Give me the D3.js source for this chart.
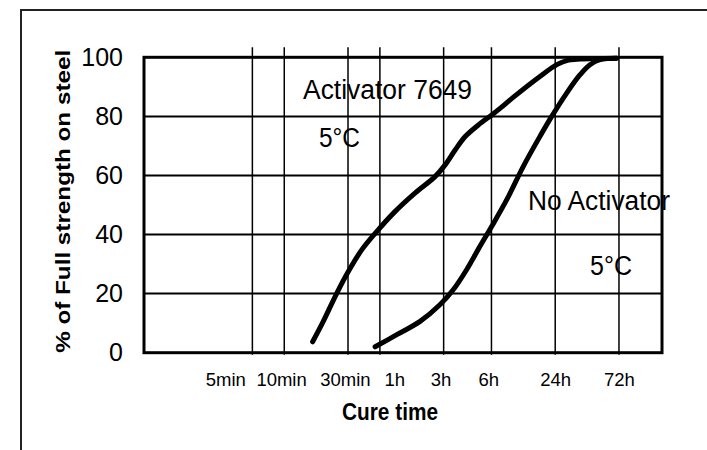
<!DOCTYPE html>
<html>
  <head>
    <meta charset='utf-8'>
    <title></title>
    <script src='https://d3js.org/d3.v7.min.js'></script>
    <style>
      body {
        margin: 0;
        background: #fff;
      }
      svg {
        display: block;
        font-family: 'Liberation Sans', Arial, sans-serif;
      }
      .grid-v {
        stroke: #000;
        stroke-width: 1.5px;
      }
      .grid-h {
        stroke: #000;
        stroke-width: 2px;
      }
      .curve {
        fill: none;
        stroke: #000;
        stroke-width: 5px;
        stroke-linecap: round;
        stroke-linejoin: round;
      }
      .axis--x path, .axis--x line,
      .axis--y path, .axis--y line {
        display: none;
      }
    </style>
  </head>
  <body>
  <script type='text/javascript'>

    // x axis is not a true log scale, so positions are kept in plain grid units
    var tickLabels = ['5min', '10min', '30min', '1h', '3h', '6h', '24h', '72h'];
    var gridPos = [3.4, 4.4, 6.4, 7.4, 9.4, 10.9, 12.9, 14.9];
    var labelPos = [2.55, 4.3, 6.3, 7.85, 9.3, 10.8, 12.9, 14.9];
    var yTicks = [0, 20, 40, 60, 80, 100];

    var activatorX = [5.29, 5.62, 6.05, 6.41, 6.83, 7.30, 7.85, 8.50, 9.13, 9.44, 9.76, 10.07, 10.49, 10.91, 11.17, 11.59, 12.42, 12.95, 13.26, 13.68, 14.83];
    var activatorY = [3.7, 10.5, 20.2, 27.5, 34.8, 41.0, 47.5, 54.0, 59.6, 63.5, 68.6, 73.1, 77.1, 80.5, 82.7, 86.5, 93.5, 97.5, 98.9, 99.4, 99.7];

    var noActivatorX = [7.25, 7.93, 8.66, 9.29, 9.70, 10.12, 10.54, 10.91, 11.38, 11.90, 12.42, 12.79, 13.26, 13.68, 13.99, 14.31, 14.83];
    var noActivatorY = [2.0, 6.1, 10.6, 16.3, 21.3, 28.1, 36.0, 42.8, 51.8, 63.1, 73.2, 80.0, 87.9, 94.1, 97.5, 99.2, 99.7];

    var width = 707;
    var height = 450;
    var plot = {left: 144, right: 662, top: 57.3, bottom: 352.7};

    var x = d3.scaleLinear()
            .domain([0, 16.25])
            .range([plot.left, plot.right]);
    var y = d3.scaleLinear()
            .domain([0, 100])
            .range([plot.bottom, plot.top]);

    var svg = d3.select('body')
              .append('svg')
              .attr('width', width)
              .attr('height', height);

    // outer frame (only top and left visible)
    svg.append('path')
      .attr('d', 'M21,' + height + 'V10H' + width)
      .attr('fill', 'none')
      .attr('stroke', '#222')
      .attr('stroke-width', 2);

    // vertical grid lines, poking a little above the plot
    svg.selectAll('.grid-v')
      .data(gridPos)
      .enter().append('line')
      .attr('class', 'grid-v')
      .attr('x1', function(d) { return x(d); })
      .attr('x2', function(d) { return x(d); })
      .attr('y1', plot.top - 10)
      .attr('y2', plot.bottom + 2);

    svg.selectAll('.grid-h')
      .data(yTicks.slice(1, -1))
      .enter().append('line')
      .attr('class', 'grid-h')
      .attr('x1', plot.left)
      .attr('x2', plot.right)
      .attr('y1', function(d) { return y(d); })
      .attr('y2', function(d) { return y(d); });

    svg.append('rect')
      .attr('x', plot.left)
      .attr('y', plot.top)
      .attr('width', plot.right - plot.left)
      .attr('height', plot.bottom - plot.top)
      .attr('fill', 'none')
      .attr('stroke', '#000')
      .attr('stroke-width', 3);

    var line = d3.line()
              .x(function(d) { return x(d[0]); })
              .y(function(d) { return y(d[1]); })
              .curve(d3.curveCatmullRom.alpha(0.5));

    svg.append('path')
      .datum(d3.zip(activatorX, activatorY))
      .attr('class', 'curve')
      .attr('d', line);

    svg.append('path')
      .datum(d3.zip(noActivatorX, noActivatorY))
      .attr('class', 'curve')
      .attr('d', line);

    // axes
    var xAxis = svg.append('g')
      .attr('class', 'axis axis--x')
      .attr('transform', 'translate(0,' + plot.bottom + ')')
      .call(d3.axisBottom(x)
        .tickValues(labelPos)
        .tickSize(0)
        .tickPadding(20)
        .tickFormat(function(d, i) { return tickLabels[i]; }));
    xAxis.selectAll('text')
      .attr('fill', '#000')
      .style('font-size', '18.5px')
      .style('font-family', "'Liberation Sans', Arial, sans-serif");

    var yAxis = svg.append('g')
      .attr('class', 'axis axis--y')
      .attr('transform', 'translate(' + plot.left + ',0)')
      .call(d3.axisLeft(y)
        .tickValues(yTicks)
        .tickSize(0)
        .tickPadding(21));
    yAxis.selectAll('text')
      .attr('fill', '#000')
      .style('font-size', '25px')
      .style('font-family', "'Liberation Sans', Arial, sans-serif");

    svg.append('text')
      .attr('transform', 'translate(63,' + ((plot.bottom + 50) / 2) + ') rotate(-90)')
      .attr('text-anchor', 'middle')
      .attr('dy', '0.35em')
      .attr('textLength', 303)
      .attr('lengthAdjust', 'spacingAndGlyphs')
      .style('font-size', '20px')
      .style('font-weight', 'bold')
      .text('% of Full strength on steel');

    svg.append('text')
      .attr('x', 390)
      .attr('y', 420)
      .attr('text-anchor', 'middle')
      .attr('textLength', 96)
      .attr('lengthAdjust', 'spacingAndGlyphs')
      .style('font-size', '24px')
      .style('font-weight', 'bold')
      .text('Cure time');

    // labels inside the plot
    var notes = [
      {text: 'Activator 7649', x: 303, y: 99.3, len: 169},
      {text: '5°C', x: 319, y: 147.3, len: 41},
      {text: 'No Activator', x: 528, y: 210, len: 142},
      {text: '5°C', x: 590, y: 275, len: 42}
    ];
    svg.selectAll('.note')
      .data(notes)
      .enter().append('text')
      .attr('class', 'note')
      .attr('x', function(d) { return d.x; })
      .attr('y', function(d) { return d.y; })
      .attr('textLength', function(d) { return d.len; })
      .attr('lengthAdjust', 'spacingAndGlyphs')
      .style('font-size', '27px')
      .text(function(d) { return d.text; });

  </script>
  </body>
</html>
